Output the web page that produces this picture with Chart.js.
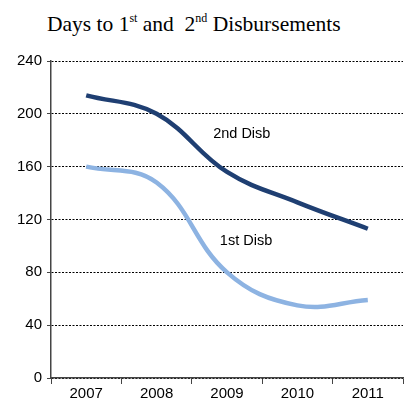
<!DOCTYPE html>
<html>
<head>
<meta charset="utf-8">
<script src="https://cdn.jsdelivr.net/npm/chart.js@4"></script>
<style>
  html, body { margin: 0; padding: 0; background: #fff; }
  #wrap { position: relative; width: 404px; height: 403px; }
  #title {
    position: absolute; left: 47px; top: 12px;
    font-family: "Liberation Serif", "Times New Roman", serif;
    font-size: 21.5px; color: #000; white-space: nowrap;
  }
  #title sup { font-size: 12px; vertical-align: 9px; line-height: 0; }
  canvas { position: absolute; left: 0; top: 0; }
</style>
</head>
<body>
<div id="wrap">
  <div id="title">Days to 1<sup>st</sup> and&nbsp; 2<sup>nd</sup> Disbursements</div>
  <canvas id="myChart" width="404" height="403"></canvas>
</div>
<script>
const years = ['2007', '2008', '2009', '2010', '2011'];
const secondDisb = [214, 200, 156, 133, 113];
const firstDisb = [160, 148, 80, 55, 59];
const yTicks = [0, 40, 80, 120, 160, 200, 240];

// series name labels drawn inside the plot, placed in data units
const seriesLabels = [
    { text: '2nd Disb', x: 2.21, y: 185 },
    { text: '1st Disb', x: 2.27, y: 104 }
];

const labelPlugin = {
    id: 'seriesLabels',
    afterDatasetsDraw(chart) {
        const ctx = chart.ctx;
        const xs = chart.scales.x, ys = chart.scales.y;
        ctx.save();
        ctx.font = '14.5px "Liberation Sans", Arial, sans-serif';
        ctx.fillStyle = '#000';
        ctx.textAlign = 'center';
        ctx.textBaseline = 'middle';
        seriesLabels.forEach(l => {
            ctx.fillText(l.text, xs.getPixelForValue(l.x), ys.getPixelForValue(l.y));
        });
        ctx.restore();
    }
};

var ctx = document.getElementById('myChart').getContext('2d');
var myChart = new Chart(ctx, {
    type: 'line',
    data: {
        labels: years,
        datasets: [
            {
                label: '2nd Disb',
                data: secondDisb,
                borderColor: '#1f3f72',
                borderWidth: 4.5,
                pointRadius: 0,
                tension: 0.4,
                fill: false
            },
            {
                label: '1st Disb',
                data: firstDisb,
                borderColor: '#8db3e2',
                borderWidth: 4.5,
                pointRadius: 0,
                tension: 0.4,
                fill: false
            }
        ]
    },
    options: {
        responsive: false,
        maintainAspectRatio: false,
        animation: false,
        layout: { padding: { top: 61, right: 1, left: 0, bottom: 0 } },
        plugins: {
            legend: { display: false },
            tooltip: { enabled: false }
        },
        scales: {
            x: {
                offset: true,
                grid: {
                    offset: true,
                    drawOnChartArea: false,
                    drawTicks: true,
                    tickLength: 6,
                    color: '#444'
                },
                border: { color: '#444', width: 1.5 },
                ticks: {
                    color: '#000',
                    padding: 1,
                    font: { family: '"Liberation Sans", Arial, sans-serif', size: 15 }
                },
                afterFit(scale) { scale.height = 25; }
            },
            y: {
                min: 0,
                max: 240,
                afterBuildTicks(scale) { scale.ticks = yTicks.map(v => ({ value: v })); },
                grid: {
                    color: '#000',
                    lineWidth: 1,
                    tickLength: 4,
                    tickColor: '#444',
                    tickBorderDash: []
                },
                border: { color: '#444', width: 1.5, dash: [2, 1.5] },
                ticks: {
                    color: '#000',
                    padding: 5,
                    font: { family: '"Liberation Sans", Arial, sans-serif', size: 15 }
                },
                afterFit(scale) { scale.width = 51; }
            }
        }
    },
    plugins: [labelPlugin]
});
</script>
</body>
</html>
